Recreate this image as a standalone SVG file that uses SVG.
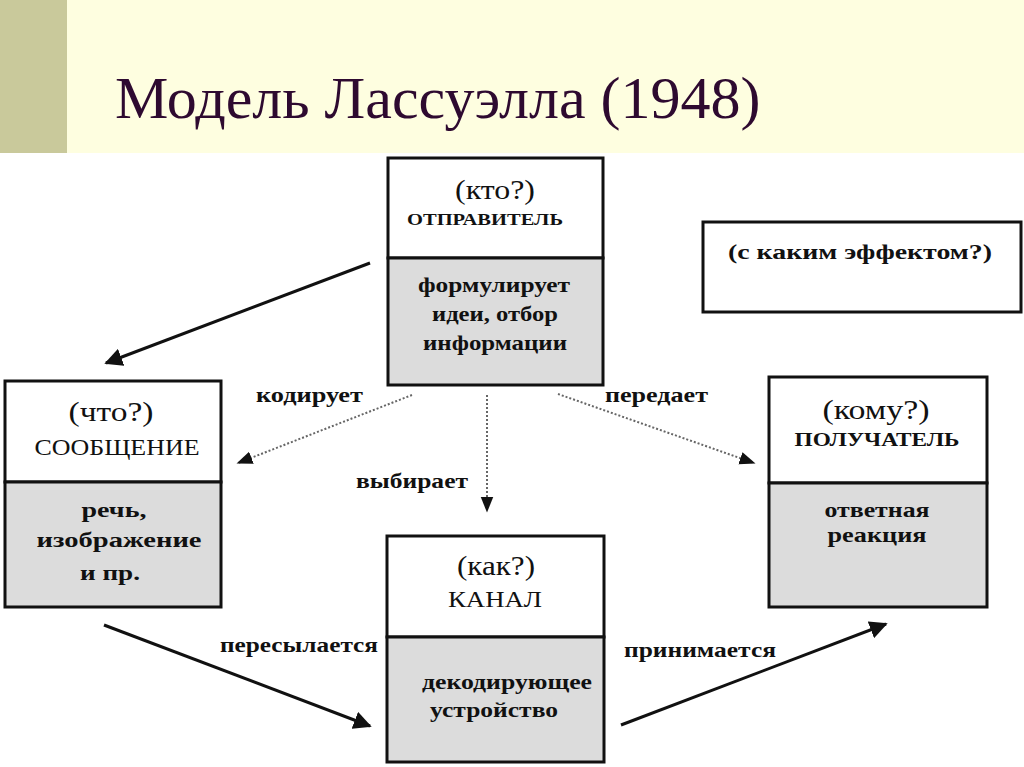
<svg xmlns="http://www.w3.org/2000/svg" width="1024" height="767" viewBox="0 0 1024 767">
<style>
.box{stroke:#111;stroke-width:3;}
.top{fill:#fff;}
.bot{fill:#dcdcdc;}
.t{fill:#111;text-anchor:middle;}
.b{font-weight:bold;}
.lbl{font-weight:bold;font-size:21px;fill:#111;}
.solid{stroke:#111;stroke-width:3;fill:none;}
.dot{stroke:#666;stroke-width:2;stroke-dasharray:2 2;fill:none;}
</style>
<defs>
<marker id="ah" viewBox="0 0 10 10" refX="9" refY="5" markerWidth="6" markerHeight="6" markerUnits="strokeWidth" orient="auto">
<path d="M0,0 L10,5 L0,10 z" fill="#111"/>
</marker>
<marker id="ahd" viewBox="0 0 10 10" refX="9" refY="5" markerWidth="8" markerHeight="8" markerUnits="strokeWidth" orient="auto">
<path d="M0,1 L10,5 L0,9 z" fill="#111"/>
</marker>
</defs>
<rect x="0" y="0" width="1024" height="767" fill="#fff"/>
<rect x="0" y="0" width="1024" height="153" fill="#fefee0"/>
<rect x="0" y="0" width="67" height="153" fill="#c9c99b"/>
<text x="115" y="118" font-size="60" font-family="Liberation Serif" fill="#2e0a30">Модель Лассуэлла (1948)</text>

<g id="connectors">
<line class="solid" x1="370" y1="263" x2="106" y2="363" marker-end="url(#ah)"/>
<line class="dot" x1="412" y1="395" x2="238" y2="463" marker-end="url(#ahd)"/>
<line class="dot" x1="487" y1="395" x2="487" y2="511" marker-end="url(#ahd)"/>
<line class="dot" x1="558" y1="394" x2="754" y2="463" marker-end="url(#ahd)"/>
<line class="solid" x1="104" y1="625" x2="370" y2="726" marker-end="url(#ah)"/>
<line class="solid" x1="621" y1="725" x2="886" y2="624" marker-end="url(#ah)"/>
<text class="lbl" font-family="Liberation Serif" x="256" y="402" textLength="107" lengthAdjust="spacingAndGlyphs">кодирует</text>
<text class="lbl" font-family="Liberation Serif" x="605" y="402" textLength="103" lengthAdjust="spacingAndGlyphs">передает</text>
<text class="lbl" font-family="Liberation Serif" x="356" y="488" textLength="112" lengthAdjust="spacingAndGlyphs">выбирает</text>
<text class="lbl" font-family="Liberation Serif" x="220" y="652" textLength="158" lengthAdjust="spacingAndGlyphs">пересылается</text>
<text class="lbl" font-family="Liberation Serif" x="624" y="657" textLength="152" lengthAdjust="spacingAndGlyphs">принимается</text>
</g>

<g id="sender">
<rect class="box top" x="388" y="158" width="215" height="100"/>
<rect class="box bot" x="388" y="258" width="215" height="127"/>
<text class="t" font-family="Liberation Serif" x="495" y="199" font-size="27" textLength="80" lengthAdjust="spacingAndGlyphs">(кто?)</text>
<text class="t b" font-family="Liberation Serif" x="485" y="225" font-size="17" textLength="156" lengthAdjust="spacingAndGlyphs">ОТПРАВИТЕЛЬ</text>
<text class="t b" font-family="Liberation Serif" x="494" y="292" font-size="22" textLength="152" lengthAdjust="spacingAndGlyphs">формулирует</text>
<text class="t b" font-family="Liberation Serif" x="495" y="321" font-size="22" textLength="126" lengthAdjust="spacingAndGlyphs">идеи, отбор</text>
<text class="t b" font-family="Liberation Serif" x="495" y="350" font-size="22" textLength="144" lengthAdjust="spacingAndGlyphs">информации</text>
</g>

<g id="effect">
<rect class="box top" x="703" y="222" width="318" height="90"/>
<text class="t b" font-family="Liberation Serif" x="860" y="259" font-size="21" textLength="264" lengthAdjust="spacingAndGlyphs">(с каким эффектом?)</text>
</g>

<g id="message">
<rect class="box top" x="5" y="381" width="216" height="101"/>
<rect class="box bot" x="5" y="482" width="216" height="125"/>
<text class="t" font-family="Liberation Serif" x="111" y="421" font-size="27" textLength="85" lengthAdjust="spacingAndGlyphs">(что?)</text>
<text class="t" font-family="Liberation Serif" x="117" y="455" font-size="23" textLength="165" lengthAdjust="spacingAndGlyphs">СООБЩЕНИЕ</text>
<text class="t b" font-family="Liberation Serif" x="114" y="517" font-size="21" textLength="65" lengthAdjust="spacingAndGlyphs">речь,</text>
<text class="t b" font-family="Liberation Serif" x="119" y="547" font-size="21" textLength="165" lengthAdjust="spacingAndGlyphs">изображение</text>
<text class="t b" font-family="Liberation Serif" x="110" y="580" font-size="21" textLength="60" lengthAdjust="spacingAndGlyphs">и пр.</text>
</g>

<g id="receiver">
<rect class="box top" x="769" y="377" width="218" height="106"/>
<rect class="box bot" x="769" y="483" width="218" height="124"/>
<text class="t" font-family="Liberation Serif" x="876" y="419" font-size="27" textLength="107" lengthAdjust="spacingAndGlyphs">(кому?)</text>
<text class="t b" font-family="Liberation Serif" x="877" y="446" font-size="19" textLength="165" lengthAdjust="spacingAndGlyphs">ПОЛУЧАТЕЛЬ</text>
<text class="t b" font-family="Liberation Serif" x="877" y="517" font-size="21" textLength="105" lengthAdjust="spacingAndGlyphs">ответная</text>
<text class="t b" font-family="Liberation Serif" x="877" y="542" font-size="21" textLength="99" lengthAdjust="spacingAndGlyphs">реакция</text>
</g>

<g id="channel">
<rect class="box top" x="387" y="536" width="217" height="101"/>
<rect class="box bot" x="387" y="637" width="217" height="125"/>
<text class="t" font-family="Liberation Serif" x="496" y="575" font-size="27" textLength="78" lengthAdjust="spacingAndGlyphs">(как?)</text>
<text class="t" font-family="Liberation Serif" x="495" y="607" font-size="24" textLength="94" lengthAdjust="spacingAndGlyphs">КАНАЛ</text>
<text class="t b" font-family="Liberation Serif" x="507" y="689" font-size="21" textLength="170" lengthAdjust="spacingAndGlyphs">декодирующее</text>
<text class="t b" font-family="Liberation Serif" x="494" y="717" font-size="21" textLength="128" lengthAdjust="spacingAndGlyphs">устройство</text>
</g>
</svg>
